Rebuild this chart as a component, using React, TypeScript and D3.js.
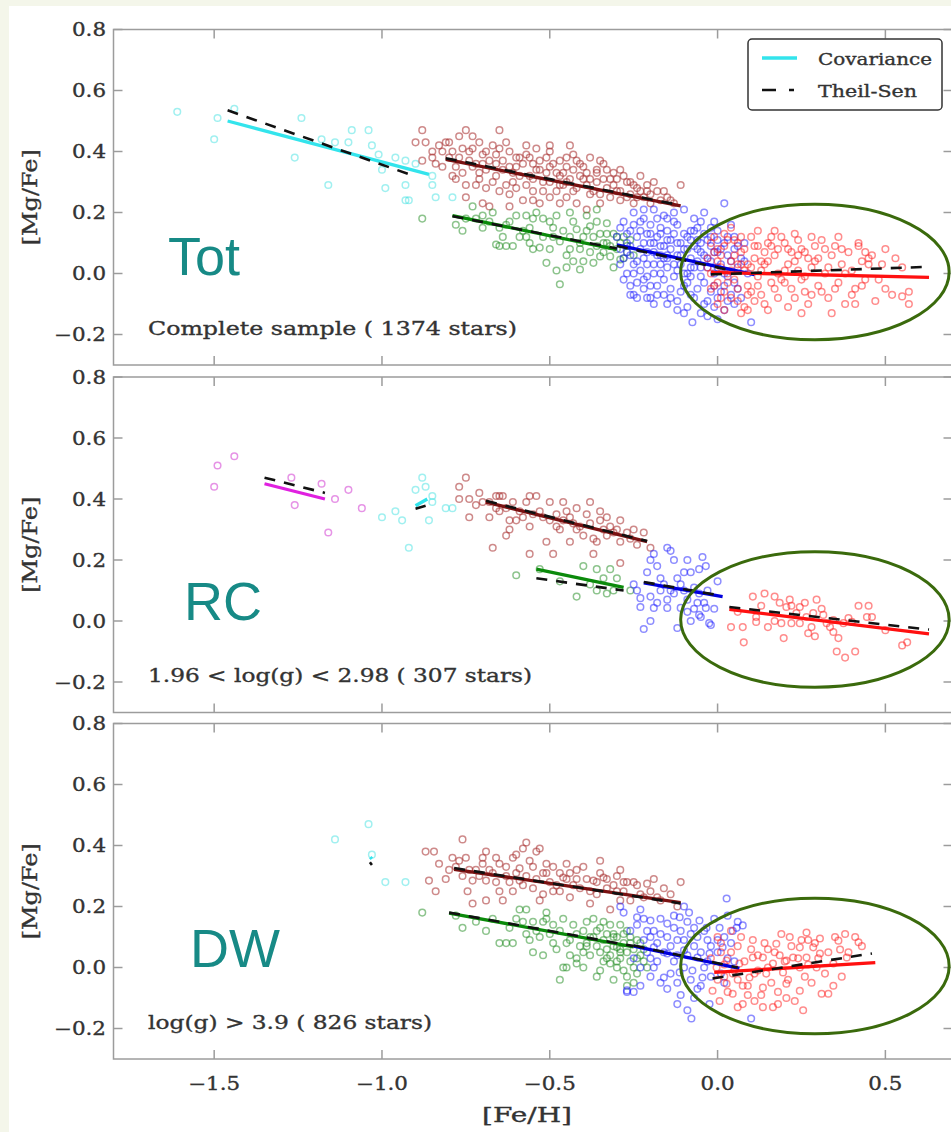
import React from "react";
import * as d3 from "d3";

type P = [number, number];

// ---------- axes / labels ----------
const xTicks = [-1.5, -1.0, -0.5, 0.0, 0.5];
const yTicks = [-0.2, 0.0, 0.2, 0.4, 0.6, 0.8];
const xDomain: P = [-1.8, 0.7];
const yDomain: P = [-0.3, 0.8];
const panelTags = ["Tot", "RC", "DW"];
const panelNotes = [
  "Complete sample ( 1374 stars)",
  "1.96 < log(g) < 2.98 ( 307 stars)",
  "log(g) > 3.9 ( 826 stars)",
];
const noteWidths = [369, 384, 284];
const legendLabels = ["Covariance", "Theil-Sen"];
const xLabel = "[Fe/H]";
const yLabel = "[Mg/Fe]";

// ---------- Tot panel ----------
const totCyan: P[] = [
  [-1.61, 0.53], [-1.49, 0.51], [-1.5, 0.44], [-1.44, 0.54], [-1.26, 0.38], [-1.24, 0.51],
  [-1.16, 0.29], [-1.18, 0.44], [-1.14, 0.43], [-1.09, 0.47], [-1.1, 0.43], [-1.04, 0.47],
  [-1.03, 0.42], [-1.01, 0.39], [-1.0, 0.34], [-0.99, 0.28], [-0.96, 0.38], [-0.93, 0.37],
  [-0.93, 0.29], [-0.93, 0.24], [-0.85, 0.32], [-0.85, 0.29], [-0.84, 0.25], [-0.79, 0.25],
  [-0.92, 0.24], [-0.9, 0.36],
];
const totBrown: P[] = [
  [-0.88, 0.47], [-0.9, 0.43], [-0.87, 0.43], [-0.85, 0.4], [-0.88, 0.37], [-0.85, 0.38],
  [-0.82, 0.4], [-0.8, 0.43], [-0.77, 0.45], [-0.75, 0.47], [-0.73, 0.45], [-0.71, 0.43],
  [-0.76, 0.41], [-0.74, 0.4], [-0.79, 0.32], [-0.78, 0.31], [-0.75, 0.29], [-0.75, 0.25],
  [-0.72, 0.29], [-0.71, 0.33], [-0.7, 0.36], [-0.69, 0.4], [-0.67, 0.42], [-0.65, 0.41],
  [-0.64, 0.37], [-0.62, 0.4], [-0.66, 0.32], [-0.69, 0.28], [-0.7, 0.23], [-0.68, 0.22],
  [-0.65, 0.27], [-0.63, 0.29], [-0.61, 0.33], [-0.59, 0.38], [-0.57, 0.42], [-0.57, 0.39],
  [-0.55, 0.36], [-0.54, 0.41], [-0.51, 0.38], [-0.5, 0.35], [-0.6, 0.28], [-0.58, 0.24],
  [-0.62, 0.22], [-0.55, 0.27], [-0.52, 0.3], [-0.53, 0.23], [-0.5, 0.25], [-0.47, 0.37],
  [-0.46, 0.33], [-0.45, 0.3], [-0.43, 0.27], [-0.42, 0.23], [-0.41, 0.36], [-0.39, 0.33],
  [-0.38, 0.38], [-0.36, 0.3], [-0.34, 0.36], [-0.33, 0.28], [-0.31, 0.33], [-0.29, 0.34],
  [-0.27, 0.3], [-0.25, 0.29], [-0.21, 0.29], [-0.19, 0.3], [-0.16, 0.27], [-0.11, 0.29],
  [-0.24, 0.25], [-0.29, 0.24], [-0.35, 0.23], [-0.39, 0.21], [-0.47, 0.23], [-0.44, 0.42],
  [-0.5, 0.42], [-0.43, 0.39], [-0.65, 0.47], [-0.8, 0.38], [-0.82, 0.35], [-0.2, 0.23],
  [-0.17, 0.24], [-0.32, 0.31], [-0.38, 0.26], [-0.47, 0.29], [-0.81, 0.43], [-0.6, 0.35],
  [-0.4, 0.31], [-0.3, 0.27], [-0.48, 0.33], [-0.56, 0.32], [-0.66, 0.36], [-0.73, 0.35],
  [-0.36, 0.34], [-0.26, 0.26], [-0.14, 0.24], [-0.23, 0.32], [-0.45, 0.35], [-0.53, 0.34],
  [-0.84, 0.36], [-0.83, 0.42], [-0.79, 0.4], [-0.78, 0.35], [-0.77, 0.38], [-0.76, 0.33],
  [-0.74, 0.37], [-0.73, 0.41], [-0.72, 0.36], [-0.71, 0.31], [-0.7, 0.39], [-0.69, 0.34],
  [-0.68, 0.37], [-0.67, 0.3], [-0.66, 0.39], [-0.64, 0.34], [-0.63, 0.43], [-0.62, 0.35],
  [-0.61, 0.3], [-0.6, 0.38], [-0.59, 0.32], [-0.58, 0.36], [-0.57, 0.29], [-0.56, 0.38],
  [-0.55, 0.31], [-0.54, 0.34], [-0.53, 0.37], [-0.52, 0.27], [-0.51, 0.33], [-0.5, 0.3],
  [-0.49, 0.36], [-0.48, 0.27], [-0.47, 0.32], [-0.46, 0.29], [-0.45, 0.38], [-0.44, 0.31],
  [-0.43, 0.34], [-0.42, 0.28], [-0.41, 0.32], [-0.4, 0.35], [-0.39, 0.29], [-0.38, 0.31],
  [-0.37, 0.27], [-0.36, 0.33], [-0.35, 0.26], [-0.34, 0.31], [-0.33, 0.34], [-0.32, 0.25],
  [-0.31, 0.29], [-0.3, 0.31], [-0.29, 0.27], [-0.28, 0.32], [-0.27, 0.25], [-0.26, 0.3],
  [-0.25, 0.23], [-0.24, 0.28], [-0.23, 0.27], [-0.22, 0.25], [-0.21, 0.27], [-0.2, 0.26],
  [-0.18, 0.27], [-0.15, 0.25], [-0.13, 0.23], [-0.45, 0.25], [-0.55, 0.24], [-0.62, 0.26],
  [-0.5, 0.4], [-0.42, 0.37], [-0.35, 0.37],
];
const totGreen: P[] = [
  [-0.88, 0.18], [-0.76, 0.14], [-0.73, 0.22], [-0.72, 0.18], [-0.68, 0.17], [-0.65, 0.15],
  [-0.65, 0.09], [-0.63, 0.09], [-0.61, 0.09], [-0.6, 0.19], [-0.57, 0.19], [-0.56, 0.15],
  [-0.54, 0.2], [-0.52, 0.18], [-0.5, 0.17], [-0.48, 0.19], [-0.55, 0.08], [-0.53, 0.085],
  [-0.57, 0.12], [-0.51, 0.035], [-0.48, 0.01], [-0.47, -0.035], [-0.45, 0.02], [-0.43, 0.04],
  [-0.44, 0.08], [-0.47, 0.105], [-0.41, 0.08], [-0.4, 0.12], [-0.38, 0.155], [-0.39, 0.19],
  [-0.35, 0.13], [-0.34, 0.1], [-0.32, 0.056], [-0.35, 0.056], [-0.37, 0.035], [-0.31, 0.13],
  [-0.31, 0.02], [-0.42, 0.145], [-0.44, 0.2], [-0.36, 0.21], [-0.33, 0.165], [-0.3, 0.08],
  [-0.29, 0.046], [-0.36, 0.09], [-0.41, 0.013], [-0.66, 0.095], [-0.63, 0.16], [-0.49, 0.12],
  [-0.59, 0.12], [-0.7, 0.19], [-0.28, 0.12], [-0.27, 0.07], [-0.33, 0.1], [-0.38, 0.07],
  [-0.78, 0.16], [-0.75, 0.18], [-0.7, 0.15], [-0.67, 0.2], [-0.64, 0.12], [-0.62, 0.17],
  [-0.58, 0.14], [-0.56, 0.1], [-0.55, 0.18], [-0.52, 0.12], [-0.5, 0.08], [-0.49, 0.15],
  [-0.46, 0.14], [-0.45, 0.06], [-0.44, 0.12], [-0.43, 0.17], [-0.41, 0.1], [-0.4, 0.04],
  [-0.39, 0.14], [-0.37, 0.12], [-0.36, 0.17], [-0.34, 0.07], [-0.33, 0.13], [-0.32, 0.09],
  [-0.3, 0.12], [-0.29, 0.1], [-0.28, 0.05], [-0.27, 0.09], [-0.26, 0.11], [-0.25, 0.06],
];
const totBlue: P[] = [
  [-0.28, 0.17], [-0.25, 0.2], [-0.22, 0.18], [-0.19, 0.21], [-0.16, 0.19], [-0.13, 0.2],
  [-0.1, 0.21], [-0.07, 0.18], [-0.04, 0.2], [-0.01, 0.17], [0.02, 0.23], [-0.2, 0.16],
  [-0.12, 0.16], [-0.06, 0.15], [0.0, 0.14], [0.05, 0.12], [0.08, 0.1], [-0.26, 0.14],
  [-0.17, 0.15], [-0.3, 0.12], [-0.29, 0.08], [-0.27, 0.1], [-0.26, 0.06], [-0.24, 0.12],
  [-0.23, 0.08], [-0.22, 0.05], [-0.21, 0.13], [-0.2, 0.1], [-0.19, 0.07], [-0.18, 0.12],
  [-0.17, 0.09], [-0.16, 0.05], [-0.15, 0.11], [-0.14, 0.08], [-0.13, 0.13], [-0.12, 0.06],
  [-0.11, 0.1], [-0.1, 0.08], [-0.09, 0.12], [-0.08, 0.05], [-0.07, 0.09], [-0.06, 0.11],
  [-0.05, 0.07], [-0.04, 0.13], [-0.03, 0.05], [-0.02, 0.09], [0.0, 0.07], [0.02, 0.1],
  [0.03, 0.06], [0.05, 0.08], [-0.29, 0.03], [-0.27, 0.0], [-0.25, 0.03], [-0.23, 0.01],
  [-0.21, -0.01], [-0.19, 0.03], [-0.17, 0.0], [-0.15, 0.02], [-0.13, -0.01], [-0.11, 0.03],
  [-0.09, 0.0], [-0.07, 0.02], [-0.05, -0.01], [-0.03, 0.02], [-0.01, 0.0], [0.01, 0.03],
  [0.03, -0.01], [0.06, 0.02], [0.09, 0.0], [-0.26, -0.04], [-0.22, -0.05], [-0.2, -0.08],
  [-0.18, -0.04], [-0.16, -0.07], [-0.14, -0.05], [-0.12, -0.09], [-0.1, -0.04], [-0.08, -0.07],
  [-0.06, -0.05], [-0.04, -0.1], [-0.02, -0.06], [0.0, -0.08], [0.02, -0.04], [0.04, -0.07],
  [0.06, -0.05], [-0.09, -0.11], [-0.05, -0.13], [0.02, -0.12], [-0.12, -0.12], [-0.21, -0.08],
  [-0.24, -0.08], [0.1, -0.16], [0.0, -0.15], [-0.03, -0.14], [0.05, -0.1], [-0.1, -0.13],
  [-0.075, -0.16], [-0.26, -0.07], [-0.25, -0.07], [-0.22, 0.21], [-0.08, 0.14], [-0.15, 0.06],
  [-0.02, 0.12], [0.04, 0.16], [-0.18, 0.18], [0.07, 0.05],
  [-0.29, 0.15], [-0.28, 0.05], [-0.28, -0.02], [-0.27, 0.13], [-0.26, 0.09], [-0.25, 0.0],
  [-0.25, 0.16], [-0.24, 0.04], [-0.24, -0.03], [-0.23, 0.14], [-0.22, 0.1], [-0.22, -0.02],
  [-0.21, 0.07], [-0.21, 0.03], [-0.2, 0.13], [-0.2, -0.04], [-0.19, 0.1], [-0.19, 0.0],
  [-0.18, 0.06], [-0.18, -0.07], [-0.17, 0.13], [-0.17, 0.03], [-0.16, 0.09], [-0.16, -0.02],
  [-0.15, 0.14], [-0.15, 0.05], [-0.14, 0.11], [-0.14, -0.08], [-0.13, 0.03], [-0.13, 0.17],
  [-0.12, 0.1], [-0.12, 0.01], [-0.11, 0.06], [-0.11, -0.06], [-0.1, 0.13], [-0.1, 0.0],
  [-0.09, 0.08], [-0.09, -0.03], [-0.08, 0.11], [-0.08, 0.02], [-0.07, 0.14], [-0.07, -0.08],
  [-0.06, 0.04], [-0.06, 0.08], [-0.05, 0.1], [-0.05, 0.02], [-0.04, 0.06], [-0.04, -0.03],
  [-0.03, 0.11], [-0.03, -0.09], [-0.02, 0.04], [-0.02, 0.15], [-0.01, 0.07], [-0.01, -0.04],
  [0.0, 0.02], [0.0, 0.11], [0.01, -0.06], [0.01, 0.08], [0.02, 0.0], [0.03, 0.12],
  [0.03, -0.09], [0.04, 0.04], [0.05, -0.03], [0.06, 0.09], [0.07, -0.08], [0.08, 0.04],
  [-0.23, 0.17], [-0.15, 0.18], [-0.05, 0.17], [-0.19, -0.1], [-0.15, -0.1], [-0.01, -0.11],
  [-0.27, 0.07], [-0.17, 0.06], [-0.08, -0.01],
];
const totRed: P[] = [
  [-0.03, 0.05], [-0.02, 0.0], [-0.01, -0.04], [0.0, 0.08], [0.01, 0.02], [0.02, -0.06],
  [0.03, 0.11], [0.04, 0.04], [0.05, -0.02], [0.06, -0.09], [0.07, 0.07], [0.08, 0.01],
  [0.09, -0.04], [0.1, 0.12], [0.11, 0.05], [0.12, -0.01], [0.13, -0.07], [0.0, -0.1],
  [0.02, -0.12], [0.04, 0.15], [0.06, 0.1], [0.08, -0.11], [0.1, -0.06], [0.12, 0.09],
  [-0.02, 0.1], [0.03, 0.0], [0.05, 0.06], [0.09, 0.03], [0.11, -0.09], [0.07, -0.13],
  [0.14, 0.03], [0.15, 0.1], [0.16, -0.03], [0.17, 0.06], [0.18, -0.08], [0.19, 0.12],
  [0.2, 0.01], [0.21, 0.08], [0.22, -0.05], [0.23, 0.04], [0.24, 0.11], [0.25, -0.02],
  [0.26, 0.07], [0.27, -0.1], [0.28, 0.02], [0.29, 0.09], [0.3, -0.04], [0.15, -0.12],
  [0.18, 0.0], [0.21, -0.11], [0.24, 0.06], [0.26, -0.06], [0.17, 0.14], [0.23, 0.13],
  [0.28, 0.12], [0.2, -0.03], [0.14, 0.07], [0.3, 0.05], [0.31, 0.11], [0.32, 0.0],
  [0.33, -0.08], [0.34, 0.06], [0.35, 0.09], [0.36, -0.03], [0.37, 0.03], [0.38, -0.1],
  [0.39, 0.07], [0.4, 0.01], [0.41, -0.05], [0.42, 0.1], [0.43, 0.04], [0.44, -0.02],
  [0.46, 0.06], [0.47, -0.09], [0.49, 0.03], [0.5, 0.08], [0.52, -0.07], [0.55, 0.02],
  [0.57, -0.1], [0.34, -0.13], [0.45, 0.03], [0.36, 0.12], [0.55, -0.075], [0.57, -0.06],
  [0.41, -0.1], [0.42, 0.09], [0.45, 0.05], [0.25, -0.13], [0.01, 0.06], [0.06, 0.03],
  [0.13, 0.04], [0.16, 0.09], [0.0, -0.03], [0.04, -0.08],
  [-0.03, 0.02], [-0.02, -0.05], [-0.01, 0.07], [0.0, 0.04], [0.01, -0.08], [0.02, 0.09],
  [0.03, -0.03], [0.04, 0.01], [0.05, 0.11], [0.06, -0.05], [0.07, 0.03], [0.08, 0.08],
  [0.09, -0.07], [0.1, 0.02], [0.11, 0.09], [0.12, -0.04], [0.13, 0.01], [0.14, -0.1],
  [0.15, 0.04], [0.16, 0.12], [0.17, -0.05], [0.18, 0.08], [0.19, -0.02], [0.2, 0.1],
  [0.21, 0.03], [0.22, 0.07], [0.23, -0.08], [0.24, 0.01], [0.25, 0.08], [0.26, -0.01],
  [0.27, 0.05], [0.28, -0.07], [0.29, 0.04], [0.31, -0.06], [0.32, 0.08], [0.33, 0.02],
  [0.35, -0.05], [0.37, 0.08], [0.38, 0.0], [0.4, -0.07], [0.43, -0.04], [0.44, 0.07],
  [0.48, -0.02], [0.5, -0.05], [0.53, 0.05], [0.02, 0.13], [0.07, 0.12], [0.12, 0.14],
  [-0.01, 0.12], [0.09, -0.12],
];
const totCov: [string, P, P][] = [
  ["cyan", [-1.46, 0.5], [-0.86, 0.325]],
  ["brown", [-0.81, 0.374], [-0.11, 0.222]],
  ["green", [-0.79, 0.19], [-0.3, 0.078]],
  ["blue", [-0.3, 0.094], [0.11, -0.004]],
  ["red", [-0.02, 0.004], [0.63, -0.013]],
];
const totTS: [P, P][] = [
  [[-1.46, 0.535], [-0.9, 0.318]],
  [[-0.81, 0.378], [-0.13, 0.228]],
  [[-0.79, 0.188], [-0.3, 0.082]],
  [[-0.3, 0.09], [0.05, 0.008]],
  [[-0.02, -0.003], [0.63, 0.022]],
];

// ---------- RC panel ----------
const rcMagenta: P[] = [
  [-1.5, 0.44], [-1.49, 0.51], [-1.44, 0.54], [-1.27, 0.47], [-1.26, 0.38], [-1.18, 0.45],
  [-1.14, 0.4], [-1.16, 0.29], [-1.1, 0.43], [-1.06, 0.37],
];
const rcCyan: P[] = [
  [-1.0, 0.34], [-0.96, 0.36], [-0.94, 0.33], [-0.92, 0.24], [-0.88, 0.47], [-0.9, 0.43],
  [-0.87, 0.44], [-0.85, 0.41], [-0.85, 0.39], [-0.86, 0.33], [-0.81, 0.37], [-0.79, 0.37],
];
const rcBrown: P[] = [
  [-0.75, 0.47], [-0.77, 0.44], [-0.77, 0.4], [-0.74, 0.4], [-0.74, 0.34], [-0.71, 0.42],
  [-0.7, 0.39], [-0.68, 0.34], [-0.67, 0.24], [-0.65, 0.41], [-0.64, 0.41], [-0.62, 0.33],
  [-0.62, 0.3], [-0.63, 0.28], [-0.57, 0.39], [-0.56, 0.41], [-0.54, 0.41], [-0.56, 0.31],
  [-0.56, 0.22], [-0.51, 0.26], [-0.49, 0.22], [-0.5, 0.39], [-0.46, 0.39], [-0.45, 0.36],
  [-0.48, 0.35], [-0.43, 0.32], [-0.42, 0.37], [-0.38, 0.39], [-0.39, 0.35], [-0.47, 0.3],
  [-0.4, 0.28], [-0.37, 0.27], [-0.35, 0.36], [-0.35, 0.33], [-0.32, 0.31], [-0.29, 0.33],
  [-0.36, 0.26], [-0.29, 0.26], [-0.37, 0.22], [-0.29, 0.19], [-0.22, 0.29], [-0.2, 0.24],
  [-0.33, 0.28], [-0.52, 0.34], [-0.59, 0.36], [-0.61, 0.39], [-0.68, 0.39], [-0.44, 0.26],
  [-0.66, 0.41], [-0.63, 0.37], [-0.53, 0.36], [-0.41, 0.31], [-0.31, 0.29], [-0.26, 0.27],
  [-0.58, 0.34], [-0.48, 0.31], [-0.44, 0.34], [-0.34, 0.3], [-0.24, 0.25], [-0.65, 0.36],
  [-0.72, 0.38], [-0.66, 0.37], [-0.6, 0.33], [-0.55, 0.35], [-0.5, 0.33], [-0.46, 0.33],
  [-0.42, 0.3], [-0.38, 0.32], [-0.33, 0.34], [-0.3, 0.3], [-0.27, 0.29], [-0.25, 0.3],
];
const rcGreen: P[] = [
  [-0.6, 0.15], [-0.42, 0.08], [-0.4, 0.18], [-0.36, 0.17], [-0.32, 0.17], [-0.34, 0.14],
  [-0.3, 0.14], [-0.36, 0.1], [-0.33, 0.09], [-0.31, 0.1], [-0.26, 0.1], [-0.53, 0.17],
  [-0.47, 0.13], [-0.38, 0.12],
];
const rcBlue: P[] = [
  [-0.15, 0.24], [-0.14, 0.23], [-0.19, 0.22], [-0.2, 0.2], [-0.13, 0.2], [-0.09, 0.2],
  [-0.045, 0.21], [-0.035, 0.18], [-0.18, 0.18], [-0.21, 0.16], [-0.1, 0.16], [-0.08, 0.16],
  [-0.055, 0.17], [-0.17, 0.14], [-0.25, 0.12], [-0.11, 0.12], [0.0, 0.13], [-0.07, 0.11],
  [-0.23, 0.075], [-0.2, 0.08], [-0.15, 0.07], [-0.23, 0.046], [-0.19, 0.043], [-0.15, 0.043],
  [-0.11, 0.043], [-0.09, 0.03], [-0.055, 0.02], [-0.035, 0.043], [-0.025, -0.007],
  [-0.02, -0.013], [-0.22, -0.026], [-0.12, -0.023], [-0.05, 0.013], [-0.09, 0.07],
  [-0.055, 0.09], [-0.14, 0.1], [-0.12, 0.14], [-0.03, 0.1], [-0.17, 0.1], [-0.06, 0.06],
  [-0.24, 0.1], [-0.18, 0.06], [-0.13, 0.09], [-0.1, 0.1], [-0.07, 0.04], [-0.04, 0.06],
  [-0.01, 0.04], [-0.16, 0.12], [-0.08, 0.0], [-0.2, 0.0],
];
const rcRed: P[] = [
  [0.105, 0.08], [0.14, 0.09], [0.17, 0.08], [0.185, 0.06], [0.215, 0.07], [0.22, 0.05],
  [0.245, 0.046], [0.295, 0.07], [0.285, 0.026], [0.115, -0.003], [0.15, -0.02], [0.04, -0.02],
  [0.075, -0.02], [0.078, -0.07], [0.197, -0.056], [0.22, -0.007], [0.28, -0.02], [0.29, -0.05],
  [0.335, -0.02], [0.345, -0.036], [0.36, -0.056], [0.355, -0.1], [0.38, -0.12], [0.41, -0.1],
  [0.4, -0.003], [0.42, 0.05], [0.45, 0.05], [0.445, 0.013], [0.46, 0.013], [0.55, -0.08],
  [0.565, -0.07], [0.205, 0.046], [0.235, 0.026], [0.265, 0.013], [0.315, 0.02], [0.345, 0.003],
  [0.19, -0.007], [0.245, -0.007], [0.325, -0.007], [0.115, 0.013], [0.375, -0.007],
  [0.06, 0.03], [0.13, 0.05], [0.17, 0.0], [0.26, 0.06], [0.31, 0.04], [0.39, 0.01],
  [0.5, -0.03], [0.27, -0.04],
];
const rcCov: [string, P, P][] = [
  ["magenta", [-1.35, 0.45], [-1.17, 0.4]],
  ["cyan", [-0.9, 0.378], [-0.865, 0.4]],
  ["brown", [-0.69, 0.39], [-0.21, 0.26]],
  ["green", [-0.54, 0.17], [-0.28, 0.11]],
  ["blue", [-0.22, 0.125], [0.015, 0.08]],
  ["red", [0.035, 0.038], [0.63, -0.042]],
];
const rcTS: [P, P][] = [
  [[-1.35, 0.47], [-1.17, 0.42]],
  [[-0.9, 0.368], [-0.87, 0.378]],
  [[-0.69, 0.394], [-0.21, 0.262]],
  [[-0.54, 0.14], [-0.28, 0.1]],
  [[-0.22, 0.128], [0.0, 0.085]],
  [[0.035, 0.046], [0.63, -0.028]],
];

// ---------- DW panel ----------
const dwCyan: P[] = [[-1.14, 0.42], [-1.04, 0.47], [-1.03, 0.37], [-0.99, 0.28], [-0.93, 0.28]];
const dwBrown: P[] = [
  [-0.76, 0.42], [-0.87, 0.38], [-0.845, 0.38], [-0.79, 0.36], [-0.77, 0.35], [-0.75, 0.36],
  [-0.7, 0.34], [-0.69, 0.38], [-0.66, 0.36], [-0.61, 0.36], [-0.58, 0.39], [-0.54, 0.38],
  [-0.51, 0.34], [-0.47, 0.31], [-0.44, 0.31], [-0.35, 0.35], [-0.86, 0.285], [-0.84, 0.25],
  [-0.8, 0.32], [-0.73, 0.285], [-0.69, 0.285], [-0.745, 0.25], [-0.73, 0.21], [-0.69, 0.22],
  [-0.65, 0.25], [-0.64, 0.22], [-0.61, 0.25], [-0.59, 0.285], [-0.63, 0.33], [-0.55, 0.33],
  [-0.55, 0.26], [-0.53, 0.22], [-0.49, 0.25], [-0.46, 0.295], [-0.44, 0.23], [-0.41, 0.26],
  [-0.38, 0.21], [-0.37, 0.285], [-0.33, 0.29], [-0.32, 0.19], [-0.29, 0.32], [-0.28, 0.28],
  [-0.59, 0.325], [-0.51, 0.31], [-0.4, 0.33], [-0.34, 0.295], [-0.27, 0.28], [-0.25, 0.28],
  [-0.21, 0.275], [-0.19, 0.29], [-0.16, 0.26], [-0.11, 0.28], [-0.29, 0.22], [-0.23, 0.24],
  [-0.33, 0.26], [-0.67, 0.31], [-0.57, 0.3], [-0.48, 0.27], [-0.42, 0.29], [-0.36, 0.24],
  [-0.62, 0.28], [-0.72, 0.32], [-0.52, 0.24], [-0.45, 0.34], [-0.3, 0.25], [-0.18, 0.23],
  [-0.83, 0.34], [-0.81, 0.29], [-0.78, 0.33], [-0.76, 0.3], [-0.74, 0.32], [-0.71, 0.3],
  [-0.7, 0.36], [-0.68, 0.32], [-0.66, 0.28], [-0.65, 0.34], [-0.63, 0.3], [-0.6, 0.31],
  [-0.58, 0.27], [-0.56, 0.35], [-0.54, 0.29], [-0.52, 0.31], [-0.5, 0.28], [-0.49, 0.33],
  [-0.47, 0.25], [-0.45, 0.29], [-0.43, 0.27], [-0.42, 0.32], [-0.39, 0.29], [-0.38, 0.25],
  [-0.36, 0.28], [-0.35, 0.31], [-0.31, 0.27], [-0.3, 0.3], [-0.28, 0.25], [-0.26, 0.22],
  [-0.24, 0.27], [-0.22, 0.23], [-0.2, 0.25], [-0.17, 0.22], [-0.14, 0.24], [-0.12, 0.2],
  [-0.57, 0.41], [-0.6, 0.37], [-0.53, 0.39],
];
const dwGreen: P[] = [
  [-0.88, 0.18], [-0.76, 0.13], [-0.65, 0.08], [-0.63, 0.08], [-0.61, 0.08], [-0.55, 0.05],
  [-0.52, 0.04], [-0.46, 0.0], [-0.42, 0.013], [-0.47, -0.04], [-0.59, 0.19], [-0.57, 0.19],
  [-0.6, 0.16], [-0.55, 0.15], [-0.51, 0.16], [-0.49, 0.14], [-0.46, 0.16], [-0.57, 0.11],
  [-0.53, 0.1], [-0.49, 0.08], [-0.45, 0.08], [-0.42, 0.11], [-0.39, 0.15], [-0.37, 0.16],
  [-0.35, 0.13], [-0.39, 0.08], [-0.36, 0.07], [-0.33, 0.06], [-0.31, 0.1], [-0.29, 0.14],
  [-0.28, 0.11], [-0.29, 0.06], [-0.3, 0.02], [-0.42, 0.03], [-0.45, 0.0], [-0.52, 0.15],
  [-0.51, 0.18], [-0.34, 0.15], [-0.31, 0.11], [-0.27, 0.12], [-0.29, 0.05], [-0.25, 0.0],
  [-0.24, 0.03], [-0.22, 0.02], [-0.25, -0.05], [-0.27, -0.03], [-0.32, 0.013], [-0.3, 0.066],
  [-0.23, 0.08], [-0.4, 0.05], [-0.37, 0.1], [-0.33, 0.03], [-0.26, 0.08], [-0.35, -0.01],
  [-0.78, 0.17], [-0.72, 0.15], [-0.69, 0.12], [-0.67, 0.16], [-0.62, 0.13], [-0.58, 0.15],
  [-0.56, 0.09], [-0.54, 0.12], [-0.5, 0.11], [-0.48, 0.06], [-0.47, 0.12], [-0.44, 0.09],
  [-0.43, 0.14], [-0.41, 0.07], [-0.4, 0.12], [-0.38, 0.04], [-0.38, 0.1], [-0.36, 0.12],
  [-0.35, 0.05], [-0.34, 0.09], [-0.33, 0.11], [-0.32, 0.04], [-0.32, 0.14], [-0.31, 0.07],
  [-0.3, 0.0], [-0.3, 0.1], [-0.29, 0.03], [-0.28, 0.08], [-0.28, -0.01], [-0.27, 0.05],
  [-0.26, 0.02], [-0.26, 0.1], [-0.25, 0.06], [-0.24, -0.02], [-0.24, 0.09], [-0.23, 0.04],
  [-0.22, 0.06], [-0.21, 0.0], [-0.36, -0.03], [-0.4, 0.0], [-0.44, 0.04], [-0.31, -0.04],
  [-0.27, -0.06], [-0.34, 0.02], [-0.39, 0.07],
];
const dwBlue: P[] = [
  [0.027, 0.226], [-0.085, 0.18], [-0.113, 0.165], [-0.2, 0.154], [-0.24, 0.165], [-0.15, 0.144],
  [-0.054, 0.154], [-0.033, 0.13], [0.006, 0.13], [0.045, 0.12], [0.075, 0.138], [0.057, 0.13],
  [-0.17, 0.11], [-0.12, 0.09], [-0.08, 0.11], [-0.03, 0.09], [0.0, 0.09], [-0.19, 0.066],
  [-0.15, 0.046], [-0.1, 0.056], [-0.06, 0.033], [-0.024, 0.046], [0.015, 0.066], [-0.19, 0.0],
  [-0.16, -0.033], [-0.113, -0.016], [-0.075, -0.01], [-0.045, -0.033], [-0.15, -0.07],
  [-0.11, -0.09], [-0.09, -0.14], [-0.078, -0.167], [-0.024, -0.12], [-0.27, -0.08],
  [-0.25, -0.08], [0.1, -0.167], [-0.23, 0.19], [-0.29, 0.2], [-0.28, 0.18], [-0.27, -0.075],
  [-0.21, 0.12], [-0.13, 0.13], [-0.07, 0.07], [-0.2, 0.03], [-0.13, 0.02], [-0.04, 0.0],
  [0.03, 0.03], [-0.17, -0.05], [-0.06, -0.07], [0.02, -0.05], [-0.22, 0.09], [-0.1, 0.2],
  [-0.26, 0.12], [-0.25, 0.03], [-0.24, 0.14], [-0.23, 0.0], [-0.22, 0.16], [-0.21, 0.05],
  [-0.2, 0.1], [-0.19, 0.12], [-0.18, 0.02], [-0.18, 0.08], [-0.17, 0.16], [-0.16, 0.05],
  [-0.15, 0.1], [-0.14, -0.02], [-0.14, 0.07], [-0.13, 0.17], [-0.12, 0.04], [-0.11, 0.12],
  [-0.1, 0.0], [-0.1, 0.09], [-0.09, 0.15], [-0.09, 0.04], [-0.08, -0.04], [-0.07, 0.13],
  [-0.06, 0.1], [-0.05, 0.05], [-0.05, -0.06], [-0.04, 0.12], [-0.03, 0.02], [-0.02, 0.07],
  [-0.02, -0.03], [-0.01, 0.16], [0.0, 0.05], [0.01, -0.02], [0.02, 0.1], [0.04, 0.08],
  [0.05, 0.02], [-0.12, -0.05], [-0.2, -0.03], [-0.23, -0.06], [-0.07, -0.1], [-0.12, -0.12],
  [0.03, 0.17], [0.06, 0.15],
];
const dwRed: P[] = [
  [0.105, 0.09], [0.175, 0.078], [0.215, 0.1], [0.265, 0.115], [0.305, 0.095], [0.36, 0.088],
  [0.42, 0.083], [0.245, 0.066], [0.285, 0.066], [0.365, 0.059], [0.135, 0.033], [0.185, 0.04],
  [0.225, 0.033], [0.265, 0.033], [0.065, 0.013], [0.027, 0.023], [-0.003, 0.0], [0.045, -0.02],
  [0.095, -0.033], [0.145, -0.02], [0.195, -0.016], [0.245, 0.0], [0.295, 0.0], [0.345, 0.013],
  [0.027, -0.053], [0.075, -0.06], [0.135, -0.066], [0.205, -0.053], [0.245, -0.076],
  [0.345, -0.06], [0.31, -0.086], [0.33, -0.086], [0.006, -0.11], [0.075, -0.12], [0.135, -0.13],
  [0.165, -0.13], [0.255, -0.14], [0.205, -0.1], [0.045, -0.086], [-0.015, -0.076],
  [0.105, 0.033], [0.165, 0.013], [0.305, 0.046], [0.385, 0.033], [0.27, 0.09], [0.205, 0.023],
  [0.01, 0.05], [0.06, 0.07], [0.12, -0.01], [0.09, -0.09], [0.02, -0.03], [0.15, 0.06],
  [-0.02, 0.03], [0.0, -0.04], [0.01, 0.08], [0.02, 0.01], [0.03, -0.08], [0.04, 0.05],
  [0.05, -0.01], [0.06, -0.04], [0.07, 0.1], [0.08, 0.02], [0.09, -0.06], [0.1, 0.06],
  [0.11, -0.02], [0.12, 0.04], [0.13, -0.09], [0.14, 0.08], [0.15, 0.0], [0.16, -0.05],
  [0.17, 0.05], [0.18, -0.08], [0.19, 0.11], [0.2, 0.02], [0.21, -0.04], [0.22, 0.07],
  [0.23, -0.11], [0.24, 0.03], [0.25, 0.09], [0.26, -0.03], [0.27, 0.01], [0.28, -0.05],
  [0.29, 0.08], [0.3, 0.03], [0.32, -0.02], [0.33, 0.05], [0.35, 0.1], [0.37, -0.03],
  [0.39, 0.05], [0.41, 0.1], [0.43, 0.07], [0.38, 0.11], [0.06, -0.13], [0.11, -0.11],
  [0.18, -0.12], [0.0, 0.1], [0.04, 0.12],
];
const dwCov: [string, P, P][] = [
  ["cyan", [-1.035, 0.362], [-1.03, 0.356]],
  ["brown", [-0.785, 0.322], [-0.11, 0.213]],
  ["green", [-0.8, 0.178], [-0.25, 0.068]],
  ["blue", [-0.25, 0.07], [0.065, -0.003]],
  ["red", [-0.01, -0.016], [0.47, 0.016]],
];
const dwTS: [P, P][] = [
  [[-1.036, 0.345], [-1.03, 0.336]],
  [[-0.785, 0.326], [-0.11, 0.21]],
  [[-0.8, 0.18], [-0.25, 0.07]],
  [[-0.25, 0.072], [0.06, 0.0]],
  [[-0.015, -0.036], [0.46, 0.046]],
];

// highlighted region (data coordinates)
const ellipseCenter: P = [0.29, 0.005];
const ellipseRadii: P = [0.4, 0.222];

// ---------- styles ----------
const POINT_COLOR: Record<string, string> = {
  cyan: "#2fdede",
  brown: "#a52a2a",
  green: "#1b8a1b",
  blue: "#1c1cff",
  red: "#ff1c1c",
  magenta: "#d23cd2",
};
const POINT_OPACITY: Record<string, number> = {
  cyan: 0.45, brown: 0.55, green: 0.5, blue: 0.5, red: 0.5, magenta: 0.55,
};
const LINE_COLOR: Record<string, string> = {
  cyan: "#33e4ec",
  brown: "#7a1212",
  green: "#0b8a0b",
  blue: "#0000dd",
  red: "#ff1010",
  magenta: "#e020e0",
};

const W = 951;
const H = 1132;
const LEFT = 113.5;
const RIGHT = 952.5;
const PANEL_TOP = [29.5, 377, 723.5];
const PANEL_H = 335.5;
const SERIF = "'DejaVu Serif', 'Liberation Serif', serif";
const TEXT = "#333333";
const SPINE = "#9c9c9c";

const panels = [
  { groups: [["cyan", totCyan], ["brown", totBrown], ["green", totGreen], ["blue", totBlue], ["red", totRed]] as [string, P[]][], cov: totCov, ts: totTS },
  { groups: [["magenta", rcMagenta], ["cyan", rcCyan], ["brown", rcBrown], ["green", rcGreen], ["blue", rcBlue], ["red", rcRed]] as [string, P[]][], cov: rcCov, ts: rcTS },
  { groups: [["cyan", dwCyan], ["brown", dwBrown], ["green", dwGreen], ["blue", dwBlue], ["red", dwRed]] as [string, P[]][], cov: dwCov, ts: dwTS },
];

const fmt = (v: number) => (v < 0 ? "\u2212" : "") + Math.abs(v).toFixed(1);

const serifText = {
  fontFamily: SERIF,
  fill: TEXT,
  stroke: TEXT,
  strokeWidth: 0.35,
  lengthAdjust: "spacingAndGlyphs",
} as const;

function Panel({ i }: { i: number }) {
  const top = PANEL_TOP[i];
  const bottom = top + PANEL_H;
  const x = d3.scaleLinear().domain(xDomain).range([LEFT, RIGHT]);
  const y = d3.scaleLinear().domain(yDomain).range([bottom, top]);
  const line = d3.line<P>().x((d) => x(d[0])).y((d) => y(d[1]));
  const p = panels[i];
  const clipId = `clip${i}`;
  const midY = (top + bottom) / 2;
  return (
    <g>
      <defs>
        <clipPath id={clipId}>
          <rect x={LEFT} y={top} width={RIGHT - LEFT} height={PANEL_H} />
        </clipPath>
      </defs>
      <g clipPath={`url(#${clipId})`}>
        {p.groups.map(([g, pts]) =>
          pts.map((d, k) => (
            <circle
              key={g + k}
              cx={x(d[0])}
              cy={y(d[1])}
              r={3.3}
              fill="none"
              stroke={POINT_COLOR[g]}
              strokeOpacity={POINT_OPACITY[g]}
              strokeWidth={1.5}
            />
          ))
        )}
        {p.cov.map(([g, a, b], k) => (
          <path key={"c" + k} d={line([a, b]) || ""} stroke={LINE_COLOR[g]} strokeWidth={3.3} fill="none" />
        ))}
        {p.ts.map(([a, b], k) => (
          <path key={"t" + k} d={line([a, b]) || ""} stroke="#111" strokeWidth={2.6} strokeDasharray="11,9" fill="none" />
        ))}
      </g>
      <rect x={LEFT} y={top} width={RIGHT - LEFT} height={PANEL_H} fill="none" stroke={SPINE} strokeWidth={1.5} />
      {xTicks.map((t) => (
        <g key={"xt" + t}>
          <line x1={x(t)} x2={x(t)} y1={top} y2={top + 9} stroke={SPINE} strokeWidth={1.5} />
          <line x1={x(t)} x2={x(t)} y1={bottom} y2={bottom - 9} stroke={SPINE} strokeWidth={1.5} />
        </g>
      ))}
      {yTicks.map((t) => (
        <g key={"yt" + t}>
          <line x1={LEFT} x2={LEFT + 9} y1={y(t)} y2={y(t)} stroke={SPINE} strokeWidth={1.5} />
          <line x1={RIGHT} x2={RIGHT - 9} y1={y(t)} y2={y(t)} stroke={SPINE} strokeWidth={1.5} />
          <text
            {...serifText}
            x={106}
            y={y(t) + 6.5}
            textAnchor="end"
            fontSize={18}
            textLength={t < 0 ? 52 : 34}
          >
            {fmt(t)}
          </text>
        </g>
      ))}
      <text
        {...serifText}
        transform={`translate(37,${midY}) rotate(-90)`}
        textAnchor="middle"
        fontSize={20}
        textLength={96}
      >
        {yLabel}
      </text>
      <text {...serifText} x={148} y={top + 305} fontSize={19} textLength={noteWidths[i]}>
        {panelNotes[i]}
      </text>
      <text
        x={[168, 184, 190][i]}
        y={[275, 620, 967][i]}
        fontFamily="'Liberation Sans', Arial, sans-serif"
        fontSize={54}
        fill="#178a86"
      >
        {panelTags[i]}
      </text>
      <ellipse
        cx={x(ellipseCenter[0])}
        cy={y(ellipseCenter[1])}
        rx={x(ellipseRadii[0]) - x(0)}
        ry={y(0) - y(ellipseRadii[1])}
        fill="none"
        stroke="#3a6a0c"
        strokeWidth={3}
      />
      {i === 2 &&
        xTicks.map((t) => (
          <text
            {...serifText}
            key={"xl" + t}
            x={x(t)}
            y={bottom + 31}
            textAnchor="middle"
            fontSize={18}
            textLength={t < 0 ? 52 : 34}
          >
            {fmt(t)}
          </text>
        ))}
    </g>
  );
}

function Legend() {
  return (
    <g>
      <rect x={748} y={39} width={194} height={71} rx={4} fill="#fff" stroke="#333" strokeWidth={1.5} />
      <line x1={762} x2={797} y1={58} y2={58} stroke={LINE_COLOR.cyan} strokeWidth={3.5} />
      <text {...serifText} x={818} y={65} fontSize={17} textLength={114}>
        {legendLabels[0]}
      </text>
      <line x1={762} x2={794} y1={90} y2={90} stroke="#111" strokeWidth={2.6} strokeDasharray="14,13" />
      <text {...serifText} x={818} y={97} fontSize={17} textLength={99}>
        {legendLabels[1]}
      </text>
    </g>
  );
}

export default function App() {
  return (
    <svg
      width={W}
      height={H}
      style={{ position: "absolute", left: 0, top: 0, display: "block" }}
      xmlns="http://www.w3.org/2000/svg"
    >
      <rect x={0} y={0} width={W} height={H} fill="#f4f6ea" />
      <rect x={9} y={6} width={W - 9} height={H - 6} fill="#ffffff" />
      {[0, 1, 2].map((i) => (
        <Panel key={i} i={i} />
      ))}
      <Legend />
      <text {...serifText} x={527} y={1122} textAnchor="middle" fontSize={20} textLength={90}>
        {xLabel}
      </text>
    </svg>
  );
}
